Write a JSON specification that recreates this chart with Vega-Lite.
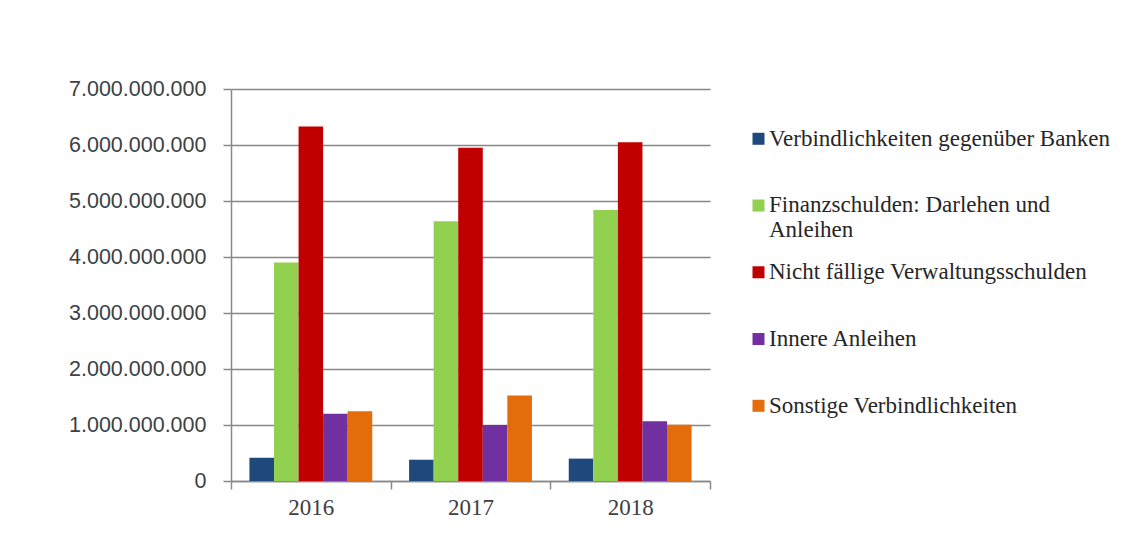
{
  "$schema": "https://vega.github.io/schema/vega-lite/v6.json",
  "width": 479,
  "height": 392,
  "autosize": {"type": "none"},
  "padding": {"left": 231, "top": 89, "right": 422, "bottom": 63},
  "background": "white",
  "data": {
    "values": [
      {"Jahr": "2016", "Art": "Verbindlichkeiten gegenüber Banken", "Wert": 415000000},
      {"Jahr": "2016", "Art": "Finanzschulden: Darlehen und Anleihen", "Wert": 3900000000},
      {"Jahr": "2016", "Art": "Nicht fällige Verwaltungsschulden", "Wert": 6330000000},
      {"Jahr": "2016", "Art": "Innere Anleihen", "Wert": 1200000000},
      {"Jahr": "2016", "Art": "Sonstige Verbindlichkeiten", "Wert": 1245000000},
      {"Jahr": "2017", "Art": "Verbindlichkeiten gegenüber Banken", "Wert": 380000000},
      {"Jahr": "2017", "Art": "Finanzschulden: Darlehen und Anleihen", "Wert": 4640000000},
      {"Jahr": "2017", "Art": "Nicht fällige Verwaltungsschulden", "Wert": 5950000000},
      {"Jahr": "2017", "Art": "Innere Anleihen", "Wert": 1000000000},
      {"Jahr": "2017", "Art": "Sonstige Verbindlichkeiten", "Wert": 1525000000},
      {"Jahr": "2018", "Art": "Verbindlichkeiten gegenüber Banken", "Wert": 400000000},
      {"Jahr": "2018", "Art": "Finanzschulden: Darlehen und Anleihen", "Wert": 4840000000},
      {"Jahr": "2018", "Art": "Nicht fällige Verwaltungsschulden", "Wert": 6050000000},
      {"Jahr": "2018", "Art": "Innere Anleihen", "Wert": 1065000000},
      {"Jahr": "2018", "Art": "Sonstige Verbindlichkeiten", "Wert": 1005000000}
    ]
  },
  "mark": {"type": "bar"},
  "encoding": {
    "x": {
      "field": "Jahr",
      "type": "nominal",
      "title": null,
      "scale": {"paddingInner": 0, "paddingOuter": 0},
      "axis": {
        "labelAngle": 0,
        "tickBand": "extent",
        "tickSize": 8,
        "tickColor": "#888888",
        "tickWidth": 1.5,
        "domainColor": "#888888",
        "domainWidth": 1.5,
        "labelFont": "Liberation Serif",
        "labelFontSize": 23,
        "labelColor": "#404040",
        "labelPadding": 7,
        "grid": false
      }
    },
    "xOffset": {
      "field": "Art",
      "type": "nominal",
      "sort": ["Verbindlichkeiten gegenüber Banken", "Finanzschulden: Darlehen und Anleihen", "Nicht fällige Verwaltungsschulden", "Innere Anleihen", "Sonstige Verbindlichkeiten"],
      "scale": {"paddingInner": 0, "paddingOuter": 0.75}
    },
    "y": {
      "field": "Wert",
      "type": "quantitative",
      "title": null,
      "scale": {"domain": [0, 7000000000], "nice": false},
      "axis": {
        "values": [0, 1000000000, 2000000000, 3000000000, 4000000000, 5000000000, 6000000000, 7000000000],
        "labelExpr": "replace(format(datum.value, ','), regexp(',', 'g'), '.')",
        "tickSize": 8,
        "tickColor": "#888888",
        "tickWidth": 1.5,
        "domainColor": "#888888",
        "domainWidth": 1.5,
        "gridColor": "#888888",
        "gridWidth": 1.5,
        "labelFont": "Liberation Sans",
        "labelFontSize": 21.5,
        "labelColor": "#404040",
        "labelPadding": 17
      }
    },
    "color": {
      "field": "Art",
      "type": "nominal",
      "title": null,
      "scale": {
        "domain": ["Verbindlichkeiten gegenüber Banken", "Finanzschulden: Darlehen und Anleihen", "Nicht fällige Verwaltungsschulden", "Innere Anleihen", "Sonstige Verbindlichkeiten"],
        "range": ["#1F497D", "#92D050", "#C00000", "#7030A0", "#E46C0A"]
      },
      "legend": {
        "orient": "none",
        "legendX": 516,
        "legendY": 45,
        "padding": 0,
        "symbolType": "M-1,-2.12H1V-0.12H-1Z",
        "symbolSize": 144,
        "symbolStrokeWidth": 0,
        "labelBaseline": "alphabetic",
        "labelFont": "Liberation Serif",
        "labelFontSize": 23,
        "labelColor": "#262626",
        "labelLimit": 400,
        "labelOffset": -1,
        "rowPadding": 17.75,
        "labelExpr": "datum.label == 'Finanzschulden: Darlehen und Anleihen' ? ['Finanzschulden: Darlehen und', 'Anleihen'] : [datum.label, ' ']",
        "encoding": {"labels": {"update": {"lineHeight": {"value": 31}}}}
      }
    }
  },
  "config": {
    "view": {"stroke": null}
  }
}
